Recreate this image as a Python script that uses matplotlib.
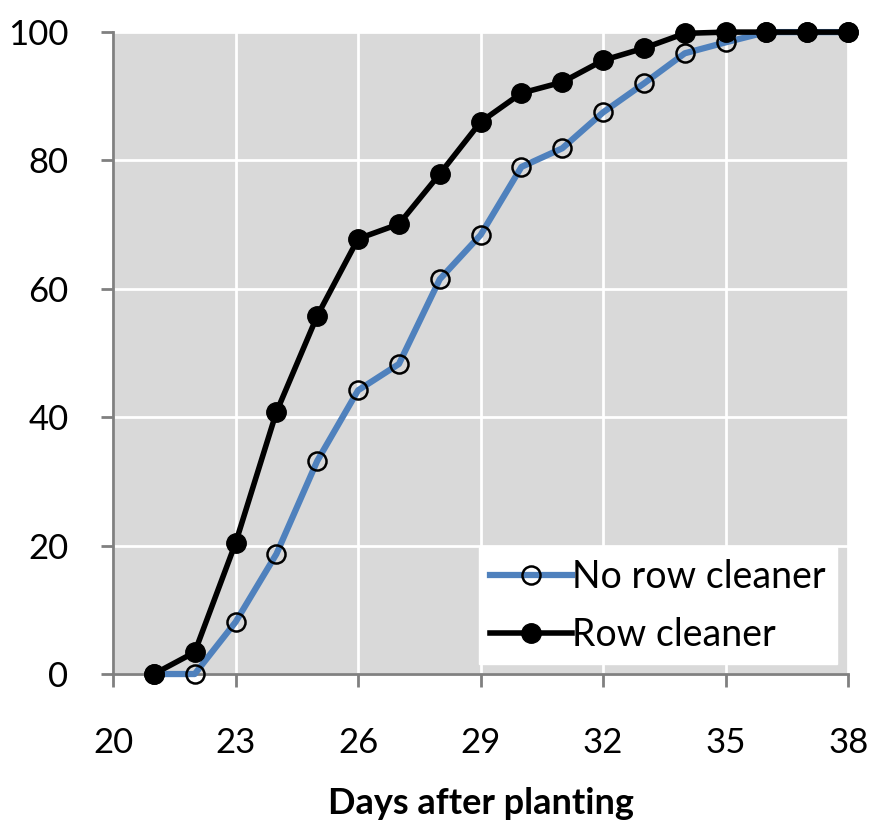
import matplotlib.pyplot as plt

days = [21, 22, 23, 24, 25, 26, 27, 28, 29, 30, 31, 32, 33, 34, 35, 36, 37, 38]
no_row_cleaner = [0, 0, 8.1, 18.7, 33.2, 44.2, 48.3, 61.5, 68.4, 79.0, 81.9, 87.5,
                  92.0, 96.7, 98.4, 100, 100, 100]
row_cleaner = [0, 3.4, 20.4, 40.8, 55.8, 67.8, 70.1, 77.9, 86.0, 90.5, 92.2, 95.6,
               97.5, 99.8, 100, 100, 100, 100]
xticks = [20, 23, 26, 29, 32, 35, 38]
yticks = [0, 20, 40, 60, 80, 100]

plt.rcParams['font.family'] = ['Lato', 'DejaVu Sans']

fig = plt.figure(figsize=(8.9, 8.23), dpi=100)
ax = fig.add_axes([0.127, 0.181, 0.826, 0.780])
ax.set_facecolor('#d9d9d9')

ax.plot(days, no_row_cleaner, color='#4f81bd', linewidth=4.5, marker='o',
        markersize=13, markerfacecolor='none', markeredgecolor='black',
        markeredgewidth=1.8, label='No row cleaner', clip_on=False, zorder=3)
ax.plot(days, row_cleaner, color='black', linewidth=4, marker='o',
        markersize=14, markerfacecolor='black', markeredgecolor='black',
        label='Row cleaner', clip_on=False, zorder=4)

ax.set_xlim(20, 38)
ax.set_ylim(0, 100)
ax.set_xticks(xticks)
ax.set_yticks(yticks)
ax.grid(True, color='white', linewidth=2)
ax.set_axisbelow(True)

for s in ['top', 'right']:
    ax.spines[s].set_visible(False)
for s in ['left', 'bottom']:
    ax.spines[s].set_color('#808080')
    ax.spines[s].set_linewidth(2)
ax.tick_params(axis='both', direction='out', length=9, width=2, color='#808080',
               labelsize=25)
ax.tick_params(axis='x', pad=29)
ax.tick_params(axis='y', pad=23)

ax.set_xlabel('Days after planting', fontsize=26, fontweight='bold', labelpad=20)

leg = ax.legend(loc='lower right', bbox_to_anchor=(0.985, 0.015), fontsize=27,
                frameon=True, fancybox=False, edgecolor='white', framealpha=1,
                handlelength=2.2, handletextpad=0.0, borderpad=0.3, labelspacing=0.6,
                borderaxespad=0.0)

plt.savefig('out.png', dpi=100)
